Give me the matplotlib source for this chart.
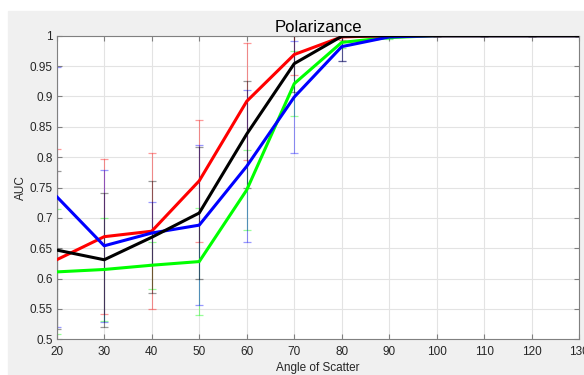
import numpy as np
import matplotlib.pyplot as plt
from matplotlib.patches import Rectangle

angles = [20, 30, 40, 50, 60, 70, 80, 90, 100, 110, 120, 130]

red = [0.631, 0.669, 0.678, 0.761, 0.892, 0.969, 0.998, 1, 1, 1, 1, 1]
red_err = [0.183, 0.128, 0.128, 0.100, 0.096, 0.034, 0.005, 0, 0, 0, 0, 0]
black = [0.647, 0.631, 0.668, 0.708, 0.838, 0.954, 0.999, 1, 1, 1, 1, 1]
black_err = [0.130, 0.110, 0.092, 0.108, 0.088, 0.046, 0.040, 0, 0, 0, 0, 0]
blue = [0.735, 0.654, 0.675, 0.688, 0.785, 0.899, 0.982, 0.998, 1, 1, 1, 1]
blue_err = [0.214, 0.125, 0.051, 0.132, 0.125, 0.093, 0.024, 0.002, 0, 0, 0, 0]
green = [0.611, 0.615, 0.622, 0.628, 0.746, 0.921, 0.989, 0.997, 1, 1, 1, 1]
green_err = [0.103, 0.085, 0.039, 0.088, 0.066, 0.054, 0.010, 0.002, 0, 0, 0, 0]

series = [
    (green, green_err, (0, 1, 0)),
    (red, red_err, (1, 0, 0)),
    (blue, blue_err, (0, 0, 1)),
    (black, black_err, (0, 0, 0)),
]

plt.rcParams['font.family'] = ['Liberation Sans', 'DejaVu Sans']

fig = plt.figure(figsize=(5.84, 3.75), dpi=100)
fig.patch.set_facecolor('white')
# matlab style grey figure area
fig.patches.append(Rectangle((8 / 584, 0), 1, (375 - 11) / 375,
                             transform=fig.transFigure, color='#f0f0f0', zorder=-10))

ax = fig.add_axes([56.7 / 584, (375 - 339.3) / 375, (579.3 - 56.7) / 584, (339.3 - 35.7) / 375])
ax.set_facecolor('white')

for vals, err, col in series:
    ax.errorbar(angles, vals, yerr=err, fmt='none', ecolor=col, elinewidth=0.8,
                capsize=3, capthick=0.9, alpha=0.4, zorder=2)
for vals, err, col in series:
    ax.plot(angles, vals, color=col, lw=2.2, zorder=3)

ax.set_xlim(20, 130)
ax.set_ylim(0.5, 1)
ax.set_xticks(np.arange(20, 131, 10))
yt = np.round(np.arange(0.5, 1.001, 0.05), 2)
ax.set_yticks(yt)
ax.set_yticklabels(['%g' % v for v in yt])
ax.grid(True, color='#e3e3e3', lw=0.8, zorder=0)
ax.set_axisbelow(True)

ax.tick_params(direction='in', length=3.5, width=0.8, colors='#808080',
               labelcolor='#262626', labelsize=8.5, top=True, right=True, pad=3)
ax.tick_params(axis='x', pad=5)
for s in ax.spines.values():
    s.set_color('#808080')
    s.set_linewidth(0.8)

ax.set_title('Polarizance', fontsize=12, color='black', pad=3)
ax.set_xlabel('Angle of Scatter', fontsize=8.5, color='#262626', labelpad=3)
ax.set_ylabel('AUC', fontsize=8.5, color='#262626', labelpad=2)

fig.savefig('out.png', dpi=100)
